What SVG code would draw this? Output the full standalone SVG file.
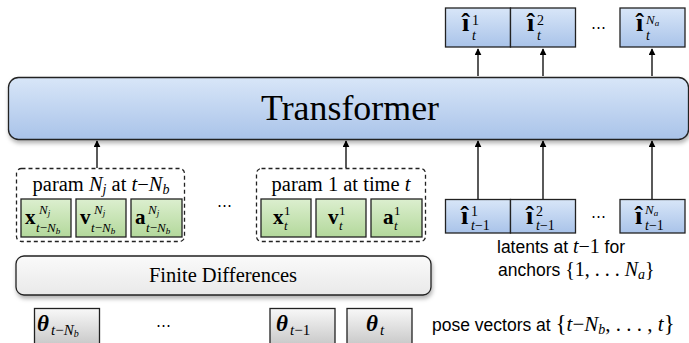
<svg xmlns="http://www.w3.org/2000/svg" width="689" height="343" viewBox="0 0 689 343">
<defs>
<linearGradient id="gBlue" x1="0" y1="0" x2="0" y2="1"><stop offset="0" stop-color="#d8e6f8"/><stop offset="1" stop-color="#a9c3e9"/></linearGradient>
<linearGradient id="gGreen" x1="0" y1="0" x2="0" y2="1"><stop offset="0" stop-color="#dcefcf"/><stop offset="1" stop-color="#b3d89b"/></linearGradient>
<linearGradient id="gGray" x1="0" y1="0" x2="0" y2="1"><stop offset="0" stop-color="#f8f8f8"/><stop offset="1" stop-color="#c9c9c9"/></linearGradient>
<linearGradient id="gLight" x1="0" y1="0" x2="0" y2="1"><stop offset="0" stop-color="#fafafa"/><stop offset="1" stop-color="#e9e9e9"/></linearGradient>
<filter id="sh" x="-5%" y="-20%" width="110%" height="150%"><feDropShadow dx="1" dy="3" stdDeviation="2" flood-color="#000" flood-opacity="0.3"/></filter>
<marker id="ah" viewBox="0 0 10 10" refX="9" refY="5" markerWidth="7" markerHeight="7" markerUnits="userSpaceOnUse" orient="auto"><path d="M0,0 L10,5 L0,10 z" fill="#000"/></marker>
</defs>
<style>
.bx{stroke:#222;stroke-width:1.3}
.ln{stroke:#000;stroke-width:1.3;fill:none}
.m{font-family:"Liberation Serif",serif;fill:#000}
.b{font-weight:bold}
.i{font-style:italic}
.s{font-family:"Liberation Sans",Arial,sans-serif;fill:#000}
.dots{font-family:"DejaVu Serif",serif;font-size:15px;fill:#000}
</style>

<g id="connectors">
<line class="ln" x1="97" y1="168" x2="97" y2="141" marker-end="url(#ah)"/>
<line class="ln" x1="346" y1="168" x2="346" y2="141" marker-end="url(#ah)"/>
<line class="ln" x1="478" y1="199" x2="478" y2="141" marker-end="url(#ah)"/>
<line class="ln" x1="543" y1="199" x2="543" y2="141" marker-end="url(#ah)"/>
<line class="ln" x1="652" y1="199" x2="652" y2="141" marker-end="url(#ah)"/>
<line class="ln" x1="478" y1="76" x2="478" y2="49" marker-end="url(#ah)"/>
<line class="ln" x1="543" y1="76" x2="543" y2="49" marker-end="url(#ah)"/>
<line class="ln" x1="652" y1="76" x2="652" y2="49" marker-end="url(#ah)"/>
</g>

<g id="transformer">
<rect class="bx" x="8.5" y="77.5" width="680" height="62" rx="10" fill="url(#gBlue)" filter="url(#sh)" stroke-width="1.6"/>
<text class="m" x="350" y="120" font-size="35" text-anchor="middle" textLength="178" lengthAdjust="spacingAndGlyphs">Transformer</text>
</g>

<g id="outputs">
<rect class="bx" x="445.5" y="8" width="65" height="39" fill="url(#gBlue)"/>
<rect class="bx" x="510.5" y="8" width="65" height="39" fill="url(#gBlue)"/>
<rect class="bx" x="620" y="8" width="65" height="39" fill="url(#gBlue)"/>
<text class="m b" x="462" y="31" font-size="26">î</text>
<text class="m" x="472" y="25" font-size="14">1</text>
<text class="m i" x="472" y="40" font-size="14">t</text>
<text class="m b" x="527" y="31" font-size="26">î</text>
<text class="m" x="537" y="25" font-size="14">2</text>
<text class="m i" x="537" y="40" font-size="14">t</text>
<text class="dots" x="598" y="32" text-anchor="middle">⋯</text>
<text class="m b" x="636" y="31" font-size="26">î</text>
<text class="m i" x="646" y="24" font-size="13">N<tspan font-size="9" dy="2">a</tspan></text>
<text class="m i" x="646" y="40" font-size="14">t</text>
</g>

<g id="latents">
<rect class="bx" x="445.5" y="199.5" width="65" height="33.5" fill="url(#gBlue)"/>
<rect class="bx" x="510.5" y="199.5" width="65" height="33.5" fill="url(#gBlue)"/>
<rect class="bx" x="620" y="199.5" width="65" height="33.5" fill="url(#gBlue)"/>
<text class="m b" x="461" y="224" font-size="26">î</text>
<text class="m" x="471" y="216" font-size="14">1</text>
<text class="m" x="471" y="230" font-size="14"><tspan class="i">t</tspan>−1</text>
<text class="m b" x="526" y="224" font-size="26">î</text>
<text class="m" x="536" y="216" font-size="14">2</text>
<text class="m" x="536" y="230" font-size="14"><tspan class="i">t</tspan>−1</text>
<text class="dots" x="598" y="221" text-anchor="middle">⋯</text>
<text class="m b" x="635" y="224" font-size="26">î</text>
<text class="m i" x="645" y="214" font-size="13">N<tspan font-size="9" dy="2">a</tspan></text>
<text class="m" x="645" y="230" font-size="14"><tspan class="i">t</tspan>−1</text>
<text class="s" x="497" y="253" font-size="17.5">latents at <tspan class="m i" font-size="20">t</tspan><tspan class="m" font-size="20">−1</tspan> for</text>
<text class="s" x="498" y="276" font-size="17.5">anchors <tspan class="m" font-size="20">{1, . . . </tspan><tspan class="m i" font-size="20">N</tspan><tspan class="m i" font-size="14" dy="3">a</tspan><tspan class="m" font-size="20" dy="-3">}</tspan></text>
</g>

<g id="param-Nj">
<rect x="16.5" y="168.5" width="168" height="73" rx="5" fill="#fff" stroke="#222" stroke-width="1.3" stroke-dasharray="4,3"/>
<text class="m" x="101" y="191" font-size="20.5" text-anchor="middle">param <tspan class="i">N<tspan font-size="14" dy="3">j</tspan></tspan><tspan dy="-3"> at </tspan><tspan class="i">t</tspan>−<tspan class="i">N<tspan font-size="14" dy="3">b</tspan></tspan></text>
<rect class="bx" x="21" y="199" width="50" height="38" fill="url(#gGreen)"/>
<rect class="bx" x="76" y="199" width="50" height="38" fill="url(#gGreen)"/>
<rect class="bx" x="131" y="199" width="51" height="38" fill="url(#gGreen)"/>
<text class="m b" x="25" y="224" font-size="21">x</text>
<text class="m i" x="39" y="214" font-size="13">N<tspan font-size="9" dy="2">j</tspan></text>
<text class="m" x="36" y="232" font-size="13"><tspan class="i">t</tspan>−<tspan class="i">N<tspan font-size="9" dy="2">b</tspan></tspan></text>
<text class="m b" x="80" y="224" font-size="21">v</text>
<text class="m i" x="94" y="214" font-size="13">N<tspan font-size="9" dy="2">j</tspan></text>
<text class="m" x="91" y="232" font-size="13"><tspan class="i">t</tspan>−<tspan class="i">N<tspan font-size="9" dy="2">b</tspan></tspan></text>
<text class="m b" x="135" y="224" font-size="21">a</text>
<text class="m i" x="148" y="214" font-size="13">N<tspan font-size="9" dy="2">j</tspan></text>
<text class="m" x="146" y="232" font-size="13"><tspan class="i">t</tspan>−<tspan class="i">N<tspan font-size="9" dy="2">b</tspan></tspan></text>
</g>

<text class="dots" x="224" y="210" text-anchor="middle">⋯</text>

<g id="param-1">
<rect x="256.5" y="168.5" width="169" height="73" rx="5" fill="#fff" stroke="#222" stroke-width="1.3" stroke-dasharray="4,3"/>
<text class="m" x="341" y="191" font-size="20.5" text-anchor="middle">param 1 at time <tspan class="i">t</tspan></text>
<rect class="bx" x="261" y="199" width="50" height="38" fill="url(#gGreen)"/>
<rect class="bx" x="316" y="199" width="50" height="38" fill="url(#gGreen)"/>
<rect class="bx" x="371" y="199" width="51" height="38" fill="url(#gGreen)"/>
<text class="m b" x="273" y="224" font-size="21">x</text>
<text class="m" x="284" y="215" font-size="13">1</text>
<text class="m i" x="284" y="230" font-size="13">t</text>
<text class="m b" x="328" y="224" font-size="21">v</text>
<text class="m" x="339" y="215" font-size="13">1</text>
<text class="m i" x="339" y="230" font-size="13">t</text>
<text class="m b" x="383" y="224" font-size="21">a</text>
<text class="m" x="394" y="215" font-size="13">1</text>
<text class="m i" x="394" y="230" font-size="13">t</text>
</g>

<g id="finite-differences">
<rect class="bx" x="16" y="256" width="415" height="39" rx="8" fill="url(#gLight)" filter="url(#sh)"/>
<text class="m" x="223" y="282" font-size="20.5" text-anchor="middle">Finite Differences</text>
</g>

<g id="pose">
<rect class="bx" x="34.5" y="308.5" width="65" height="36" fill="url(#gGray)"/>
<rect class="bx" x="270" y="308.5" width="65" height="36" fill="url(#gGray)"/>
<rect class="bx" x="347" y="308.5" width="65" height="36" fill="url(#gGray)"/>
<text class="m b i" x="37" y="331" font-size="23">θ</text>
<text class="m" x="51" y="335" font-size="15"><tspan class="i">t</tspan>−<tspan class="i">N<tspan font-size="10" dy="2">b</tspan></tspan></text>
<text class="dots" x="163" y="330" text-anchor="middle">⋯</text>
<text class="m b i" x="276" y="331" font-size="23">θ</text>
<text class="m" x="290" y="335" font-size="15"><tspan class="i">t</tspan>−1</text>
<text class="m b i" x="366" y="331" font-size="23">θ</text>
<text class="m i" x="380" y="335" font-size="15">t</text>
<text class="s" x="432" y="331" font-size="17.5">pose vectors at <tspan class="m" font-size="23">{</tspan><tspan class="m i" font-size="21">t</tspan><tspan class="m" font-size="21">−</tspan><tspan class="m i" font-size="21">N</tspan><tspan class="m i" font-size="14" dy="3">b</tspan><tspan class="m" font-size="21" dy="-3">, . . . , </tspan><tspan class="m i" font-size="21">t</tspan><tspan class="m" font-size="23">}</tspan></text>
</g>
</svg>
